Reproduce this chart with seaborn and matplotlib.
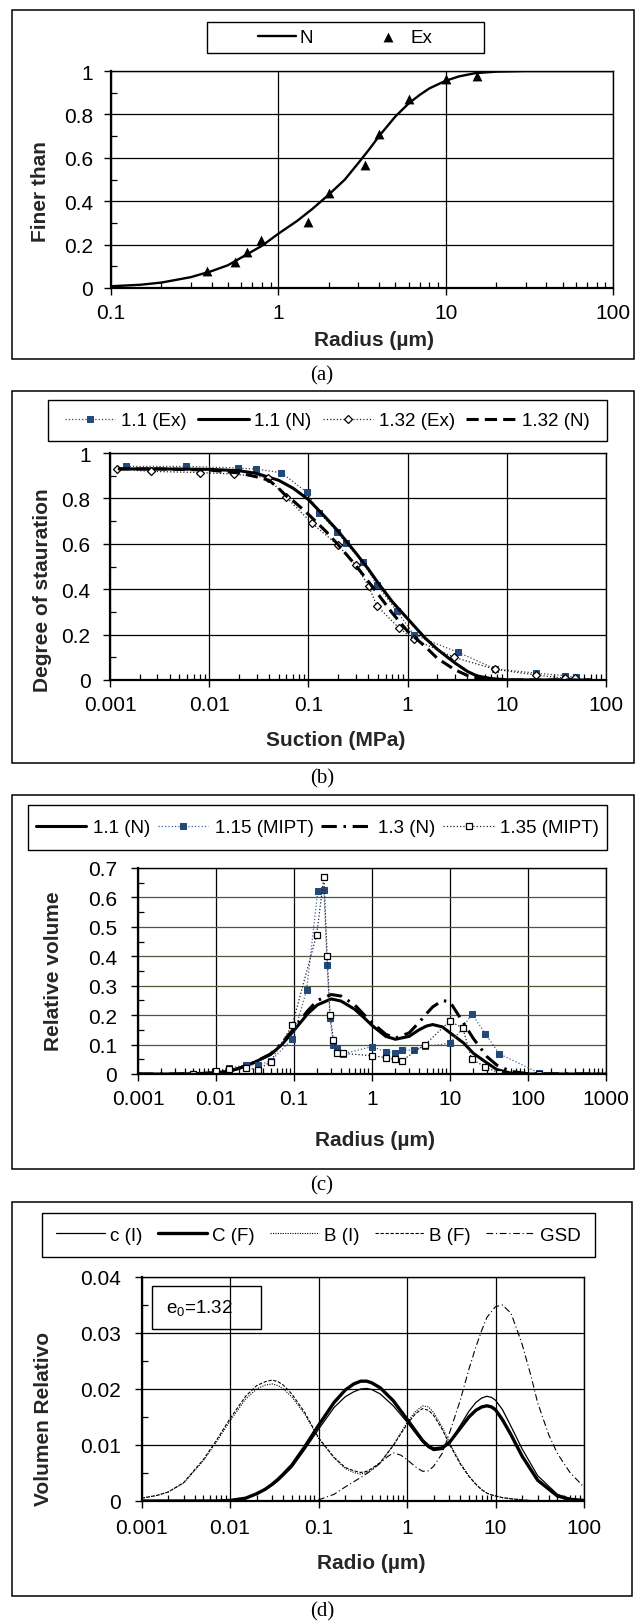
import numpy as np
import pandas as pd
import seaborn as sns
import matplotlib
matplotlib.use('Agg')
import matplotlib.pyplot as plt
from matplotlib.patches import Rectangle
from matplotlib.ticker import LogLocator, MultipleLocator, FuncFormatter, NullFormatter

# ---- (a) grain size curve
a_n_x = [0.1, 0.15, 0.2, 0.3, 0.4, 0.5, 0.6, 0.8, 1, 1.3, 1.6, 2, 2.5, 3, 3.5, 4, 5, 6, 7, 8, 10, 12, 15, 20, 30, 50, 100]
a_n_y = [0.008, 0.015, 0.025, 0.05, 0.078, 0.105, 0.14, 0.195, 0.25, 0.31, 0.365, 0.43, 0.5, 0.575, 0.64, 0.70,
         0.79, 0.85, 0.89, 0.92, 0.955, 0.975, 0.99, 0.997, 1.0, 1.0, 1.0]
a_ex_x = [0.376, 0.55, 0.65, 0.79, 1.5, 2.0, 3.3, 4.0, 6.0, 10, 15.3]
a_ex_y = [0.077, 0.122, 0.165, 0.219, 0.303, 0.438, 0.568, 0.709, 0.87, 0.962, 0.977]

# ---- (b) retention curves
b_ex11_x = [0.00146, 0.0059, 0.0196, 0.0297, 0.0535, 0.097, 0.129, 0.195, 0.237, 0.352, 0.49, 0.785, 1.16, 3.22, 7.66, 19.8, 39, 49.3]
b_ex11_y = [0.941, 0.941, 0.934, 0.929, 0.913, 0.826, 0.735, 0.653, 0.605, 0.521, 0.42, 0.302, 0.199, 0.122, 0.049, 0.03, 0.019, 0.012]
b_ex132_x = [0.00118, 0.00257, 0.008, 0.0178, 0.039, 0.0589, 0.109, 0.2, 0.3, 0.405, 0.49, 0.82, 1.16, 2.93, 7.66, 19.8, 39, 49]
b_ex132_y = [0.929, 0.919, 0.914, 0.907, 0.892, 0.808, 0.69, 0.593, 0.506, 0.413, 0.327, 0.229, 0.18, 0.1, 0.047, 0.022, 0.007, 0.007]
b_n11_x = [0.0012, 0.003, 0.01, 0.02, 0.03, 0.05, 0.07, 0.1, 0.15, 0.2, 0.3, 0.4, 0.5, 0.7, 1, 1.5, 2, 3, 4, 5, 7, 10, 20, 70]
b_n11_y = [0.93, 0.93, 0.928, 0.922, 0.91, 0.88, 0.845, 0.795, 0.715, 0.655, 0.56, 0.49, 0.43, 0.345, 0.27, 0.185, 0.135,
           0.075, 0.038, 0.018, 0.006, 0.001, 0, 0]
b_n132_x = [0.0012, 0.003, 0.01, 0.02, 0.03, 0.04, 0.05, 0.06, 0.07, 0.1, 0.15, 0.2, 0.3, 0.4, 0.5, 0.7, 1, 1.5, 2, 3, 4, 5, 7, 10, 20, 70]
b_n132_y = [0.93, 0.93, 0.925, 0.912, 0.895, 0.88, 0.845, 0.81, 0.79, 0.73, 0.655, 0.595, 0.505, 0.435, 0.38, 0.295, 0.215,
            0.148, 0.095, 0.045, 0.02, 0.01, 0.003, 0, 0, 0]

# ---- (c) pore size distributions
c_n_x = [0.001, 0.003, 0.005, 0.007, 0.01, 0.015, 0.02, 0.03, 0.05, 0.07, 0.1, 0.15, 0.2, 0.3, 0.4, 0.6, 0.8, 1, 1.5, 2,
         3, 4, 5, 6, 8, 10, 15, 20, 30, 40, 60, 100, 1000]
c_n11_y = [0, 0, 0.001, 0.002, 0.004, 0.01, 0.02, 0.038, 0.066, 0.1, 0.148, 0.205, 0.235, 0.255, 0.248, 0.22, 0.19, 0.165,
           0.128, 0.118, 0.128, 0.15, 0.163, 0.168, 0.16, 0.14, 0.105, 0.07, 0.037, 0.015, 0.003, 0, 0]
c_n13_y = [0, 0, 0.001, 0.002, 0.004, 0.01, 0.02, 0.038, 0.068, 0.105, 0.155, 0.215, 0.25, 0.27, 0.265, 0.235, 0.2, 0.175,
           0.135, 0.122, 0.14, 0.175, 0.205, 0.228, 0.25, 0.245, 0.172, 0.12, 0.058, 0.03, 0.009, 0.001, 0]
c_m115_x = [0.005, 0.01, 0.0147, 0.024, 0.0344, 0.05, 0.095, 0.145, 0.202, 0.242, 0.266, 0.29, 0.32, 0.36, 0.43, 1.0, 1.5,
            1.95, 2.4, 3.46, 4.8, 9.9, 14.6, 19, 28.5, 43, 140]
c_m115_y = [0, 0.009, 0.021, 0.03, 0.03, 0.044, 0.118, 0.284, 0.622, 0.625, 0.37, 0.19, 0.1, 0.087, 0.069, 0.093, 0.076,
            0.071, 0.081, 0.081, 0.095, 0.104, 0.156, 0.205, 0.136, 0.068, 0.003]
c_m135_x = [0.005, 0.01, 0.0147, 0.024, 0.0344, 0.05, 0.095, 0.195, 0.242, 0.266, 0.29, 0.32, 0.36, 0.43, 1.0, 1.5, 1.95,
            2.4, 4.8, 9.9, 14.6, 19, 28.5, 42, 140]
c_m135_y = [0, 0.009, 0.017, 0.021, 0.015, 0.041, 0.167, 0.473, 0.67, 0.4, 0.2, 0.117, 0.071, 0.07, 0.062, 0.056, 0.05,
            0.045, 0.1, 0.18, 0.156, 0.05, 0.024, 0.004, 0.001]

# ---- (d) Volumen relativo, e0 = 1.32
d_x = [0.001, 0.0015, 0.002, 0.003, 0.005, 0.007,
       0.01, 0.015, 0.02, 0.025, 0.03, 0.035, 0.04, 0.05, 0.07,
       0.1, 0.15, 0.2, 0.25, 0.3, 0.35, 0.4, 0.5, 0.7,
       1, 1.25, 1.5, 1.75, 2, 2.5, 3, 4, 5, 6, 7, 8, 9,
       10, 12, 15, 20, 30, 50, 70, 100]
d_ci = [0, 0, 0, 0, 0, 0,
        0.0001, 0.0005, 0.0012, 0.002, 0.0028, 0.0036, 0.0045, 0.006, 0.0092,
        0.0128, 0.0167, 0.0186, 0.0195, 0.02, 0.0201, 0.0199, 0.0191, 0.017,
        0.0141, 0.0121, 0.0105, 0.0095, 0.009, 0.0092, 0.0103, 0.0135, 0.016, 0.0176, 0.0184, 0.0187, 0.0185,
        0.018, 0.0163, 0.0133, 0.0093, 0.0045, 0.0012, 0.0004, 0.0001]
d_cf = [0, 0, 0, 0, 0, 0,
        0.0001, 0.0005, 0.0013, 0.0021, 0.003, 0.0039, 0.0048, 0.0064, 0.0097,
        0.0135, 0.0176, 0.0198, 0.0209, 0.0214, 0.0214, 0.0211, 0.0202, 0.0179,
        0.0146, 0.0125, 0.0108, 0.0098, 0.0093, 0.0095, 0.0104, 0.013, 0.015, 0.0162, 0.0168, 0.017, 0.0168,
        0.0163, 0.0145, 0.0118, 0.008, 0.0037, 0.0009, 0.0003, 0.0001]
d_bi = [0.0005, 0.001, 0.0016, 0.0032, 0.0072, 0.0105,
        0.0143, 0.0182, 0.02, 0.0207, 0.0209, 0.0206, 0.02, 0.0186, 0.0155,
        0.0112, 0.0077, 0.0058, 0.0051, 0.0048, 0.0051, 0.0056, 0.0068, 0.01,
        0.014, 0.016, 0.017, 0.0168, 0.0158, 0.0132, 0.0105, 0.0068, 0.0045, 0.003, 0.002, 0.0014, 0.0011,
        0.0009, 0.0006, 0.0004, 0.0002, 0, 0, 0, 0]
d_bf = [0.0005, 0.001, 0.0016, 0.0033, 0.0074, 0.0108,
        0.0147, 0.0187, 0.0206, 0.0213, 0.0216, 0.0213, 0.0207, 0.0191, 0.0158,
        0.0113, 0.0078, 0.006, 0.0054, 0.0051, 0.0053, 0.0058, 0.0069, 0.0099,
        0.0137, 0.0156, 0.0165, 0.0162, 0.0153, 0.0128, 0.0102, 0.0066, 0.0044, 0.003, 0.002, 0.0014, 0.0011,
        0.0009, 0.0006, 0.0004, 0.0002, 0, 0, 0, 0]
d_gsd_x = [0.07, 0.1, 0.15, 0.2, 0.3, 0.4, 0.5, 0.6, 0.7, 0.85, 1, 1.25, 1.5, 1.75, 2, 2.5, 3, 4, 5, 6, 7, 8, 10, 12, 15,
           20, 25, 30, 40, 50, 70, 100]
d_gsd = [0, 0.0002, 0.0012, 0.0025, 0.0042, 0.0055, 0.0068, 0.0079, 0.0086, 0.0082, 0.0074, 0.0061, 0.0053, 0.0054,
         0.0062, 0.0085, 0.012, 0.018, 0.0235, 0.0275, 0.0305, 0.0328, 0.0347, 0.035, 0.0335, 0.028, 0.0225, 0.0175,
         0.0118, 0.0085, 0.005, 0.0025]

sns.set_style('white')
plt.rcParams['font.family'] = ['Liberation Sans', 'DejaVu Sans']
plt.rcParams['mathtext.default'] = 'regular'
plt.rcParams['text.color'] = 'black'
plt.rcParams['xtick.color'] = 'black'
plt.rcParams['ytick.color'] = 'black'

W, H = 635, 1624
fig = plt.figure(figsize=(W / 100, H / 100), dpi=100)

TICK = 15
LAB = 15
LEG = 13.5


def px_axes(x0, y0, x1, y1):
    return fig.add_axes([x0 / W, 1 - y1 / H, (x1 - x0) / W, (y1 - y0) / H])


def px_rect(x0, y0, x1, y1, lw=1.1):
    fig.add_artist(Rectangle((x0 / W, 1 - y1 / H), (x1 - x0) / W, (y1 - y0) / H, transform=fig.transFigure,
                             fill=False, ec='black', lw=lw))


def style(ax, xlim, ylim, ystep, yminor, ypad, xpad, hgrid='black'):
    ax.set_xscale('log')
    ax.set_xlim(*xlim)
    ax.set_ylim(*ylim)
    ax.xaxis.set_major_locator(LogLocator(base=10, numticks=20))
    ax.xaxis.set_minor_locator(LogLocator(base=10, subs=np.arange(2, 10), numticks=20))
    ax.xaxis.set_major_formatter(FuncFormatter(lambda v, p: f'{v:g}'))
    ax.xaxis.set_minor_formatter(NullFormatter())
    ax.yaxis.set_major_locator(MultipleLocator(ystep))
    ax.yaxis.set_minor_locator(MultipleLocator(yminor))
    ax.yaxis.set_major_formatter(FuncFormatter(lambda v, p: f'{round(v, 6):g}'))
    ax.set_axisbelow(True)
    ax.grid(axis='x', which='major', color='black', lw=0.9)
    ax.grid(axis='y', which='major', color=hgrid, lw=0.9)
    ax.tick_params(which='major', direction='out', length=5, width=1.0, labelsize=TICK, left=True, bottom=True)
    ax.tick_params(which='minor', direction='in', length=4, width=0.9, left=True, bottom=True)
    ax.tick_params(axis='y', which='major', pad=ypad)
    ax.tick_params(axis='x', which='major', pad=xpad)
    for k, s in ax.spines.items():
        s.set_color('black')
        s.set_linewidth(1.6 if k in ('left', 'bottom') else 1.0)


def labels(ax, xl, yl, ax_px, xl_cx, xl_cy, yl_cx, yl_cy):
    x0, y0, x1, y1 = ax_px
    ax.set_xlabel(xl, fontsize=LAB, fontweight='bold', va='center', ha='center')
    ax.set_ylabel(yl, fontsize=LAB, fontweight='bold', va='center', ha='center')
    ax.xaxis.set_label_coords((xl_cx - x0) / (x1 - x0), -(xl_cy - y1) / (y1 - y0))
    ax.yaxis.set_label_coords((yl_cx - x0) / (x1 - x0), 1 - (yl_cy - y0) / (y1 - y0))


def legend(ax, handles, box, ncol, hl, tp, cs):
    x0, y0, x1, y1 = box
    px_rect(x0, y0, x1, y1, lw=1.0)
    ax.legend(handles=handles, loc='center', bbox_to_anchor=((x0 + x1) / 2 / W, 1 - (y0 + y1) / 2 / H),
              bbox_transform=fig.transFigure, ncol=ncol, frameon=False, fontsize=LEG, handlelength=hl,
              handletextpad=tp, columnspacing=cs, borderpad=0, numpoints=1, scatterpoints=1)


def caption(txt, cy):
    fig.text(322 / W, 1 - cy / H, txt, ha='center', va='center', family='Liberation Serif', fontsize=15)


navy = '#23487a'

# ================= (a)
px_rect(12, 11, 634, 360)
pa = (111, 72, 613, 289)
ax = px_axes(*pa)
sns.lineplot(x=a_n_x, y=a_n_y, ax=ax, color='black', lw=1.7, label='N', legend=False)
sns.scatterplot(x=a_ex_x, y=a_ex_y, ax=ax, marker='^', s=50, color='black', edgecolor='black', linewidth=0,
                label='Ex', legend=False)
style(ax, (0.1, 100), (0, 1), 0.2, 0.1, 8, 6)
labels(ax, 'Radius (µm)', 'Finer than', pa, 374, 341, 40, 192)
h, l = ax.get_legend_handles_labels()
legend(ax, h, (207, 23, 484, 54), 2, 2.0, 0.2, 3.0)
caption('(a)', 376)

# ================= (b)
px_rect(12, 392, 634, 764)
pb = (110, 454, 606, 681)
ax = px_axes(*pb)
sns.lineplot(x=b_ex11_x, y=b_ex11_y, ax=ax, color='#444444', lw=0.9, linestyle=':', marker='s', markersize=5,
             markerfacecolor=navy, markeredgecolor=navy, label='1.1 (Ex)', legend=False)
sns.lineplot(x=b_n11_x, y=b_n11_y, ax=ax, color='black', lw=2.2, label='1.1 (N)', legend=False)
sns.lineplot(x=b_ex132_x, y=b_ex132_y, ax=ax, color='#222222', lw=0.9, linestyle=':', marker='D', markersize=4,
             markerfacecolor='white', markeredgecolor='black', markeredgewidth=0.9, label='1.32 (Ex)', legend=False)
sns.lineplot(x=b_n132_x, y=b_n132_y, ax=ax, color='black', lw=2.2, linestyle=(0, (4, 2)), label='1.32 (N)',
             legend=False)
style(ax, (0.001, 100), (0, 1), 0.2, 0.1, 9, 6)
labels(ax, 'Suction (MPa)', 'Degree of stauration', pb, 336, 740, 43, 590)
h, l = ax.get_legend_handles_labels()
legend(ax, h, (48, 401, 607, 442), 4, 2.7, 0.3, 0.6)
caption('(b)', 779)

# ================= (c)
px_rect(12, 796, 634, 1170)
pc = (138, 869, 606, 1075)
ax = px_axes(*pc)
sns.lineplot(x=c_n_x, y=c_n11_y, ax=ax, color='black', lw=2.2, label='1.1 (N)', legend=False)
sns.lineplot(x=c_m115_x, y=c_m115_y, ax=ax, color='#3d64a0', lw=0.9, linestyle=':', marker='s', markersize=4.5,
             markerfacecolor=navy, markeredgecolor=navy, label='1.15 (MIPT)', legend=False)
sns.lineplot(x=c_n_x, y=c_n13_y, ax=ax, color='black', lw=2.2, linestyle=(0, (5, 2.2, 0.8, 2.2)), label='1.3 (N)',
             legend=False)
sns.lineplot(x=c_m135_x, y=c_m135_y, ax=ax, color='#222222', lw=0.9, linestyle=':', marker='s', markersize=4.5,
             markerfacecolor='white', markeredgecolor='black', markeredgewidth=0.9, label='1.35 (MIPT)',
             legend=False)
style(ax, (0.001, 1000), (0, 0.7), 0.1, 0.05, 10, 6, hgrid='#55533a')
labels(ax, 'Radius (µm)', 'Relative volume', pc, 375, 1140, 54, 971)
h, l = ax.get_legend_handles_labels()
legend(ax, h, (28, 806, 607, 851), 4, 2.7, 0.35, 0.4)
caption('(c)', 1186)

# ================= (d)
px_rect(12, 1203, 632, 1597)
pd_ = (141.5, 1278, 584, 1502)
ax = px_axes(*pd_)
sns.lineplot(x=d_x, y=d_ci, ax=ax, color='black', lw=0.9, label='c (I)', legend=False)
sns.lineplot(x=d_x, y=d_cf, ax=ax, color='black', lw=2.4, label='C (F)', legend=False)
sns.lineplot(x=d_x, y=d_bi, ax=ax, color='black', lw=0.8, linestyle=(0, (1, 1.2)), label='B (I)', legend=False)
sns.lineplot(x=d_x, y=d_bf, ax=ax, color='black', lw=0.8, linestyle=(0, (3, 1.5)), label='B (F)', legend=False)
sns.lineplot(x=d_gsd_x, y=d_gsd, ax=ax, color='black', lw=0.8, linestyle=(0, (6, 2.5, 1, 2.5)), label='GSD',
             legend=False)
style(ax, (0.001, 100), (0, 0.04), 0.01, 0.005, 10, 7)
labels(ax, 'Radio (µm)', 'Volumen Relativo', pd_, 371, 1564, 44, 1419)
h, l = ax.get_legend_handles_labels()
legend(ax, h, (42, 1214, 595, 1258), 5, 2.6, 0.3, 0.8)
px_rect(152, 1287, 261, 1330, lw=1.0)
fig.text(166 / W, 1 - 1308 / H, r'e$_0$=1.32', ha='left', va='center', fontsize=13.5)
caption('(d)', 1612)

fig.savefig('out.png', dpi=100, facecolor='white')
